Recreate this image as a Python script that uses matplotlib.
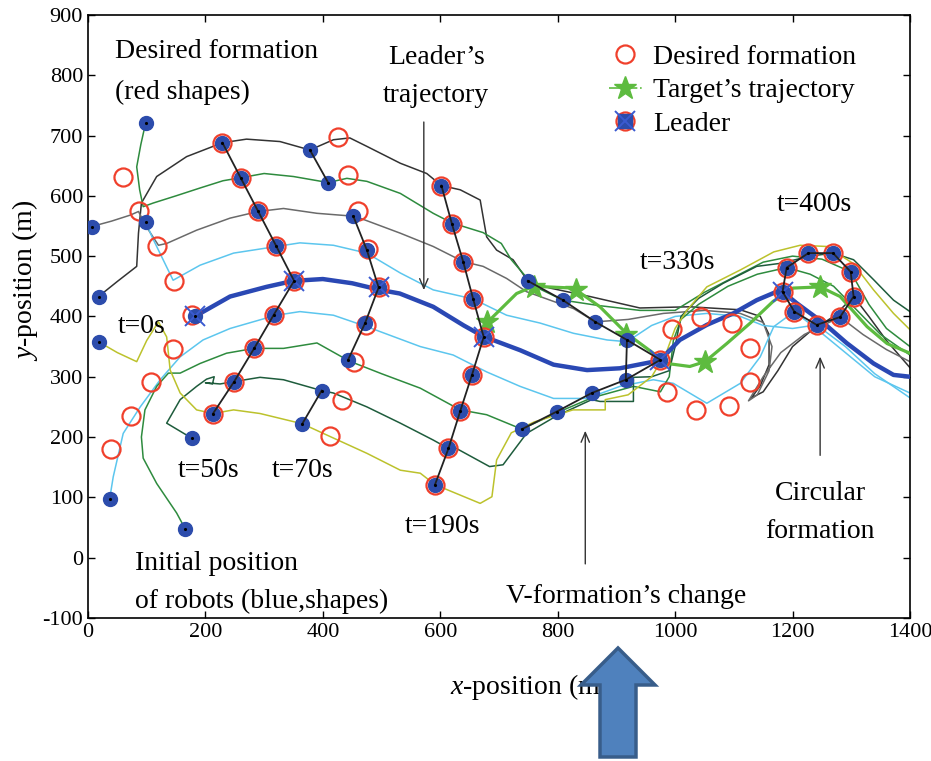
import matplotlib
matplotlib.use('Agg')
import matplotlib.pyplot as plt
from matplotlib.lines import Line2D
from matplotlib.patches import Polygon
from matplotlib.legend_handler import HandlerTuple

plt.rcParams['font.family'] = ['Liberation Serif', 'DejaVu Serif']
plt.rcParams['mathtext.fontset'] = 'custom'
plt.rcParams['mathtext.it'] = 'Liberation Serif:italic'
plt.rcParams['mathtext.rm'] = 'Liberation Serif'
plt.rcParams['axes.unicode_minus'] = False

# --- robot trajectories ---
leader_x = [182, 242, 304, 350, 400, 450, 497, 531, 588, 640, 673, 736, 793, 850, 906, 974,
            1008, 1054, 1099, 1139, 1173, 1183, 1207, 1253, 1292, 1338, 1372, 1400]
leader_y = [400, 433, 449, 459, 462, 455, 444, 438, 416, 385, 367, 344, 320, 311, 314, 327,
            361, 386, 405, 427, 441, 441, 422, 389, 356, 322, 303, 300]

black_x = [18, 50, 83, 86, 91, 117, 168, 229, 270, 327, 378, 418, 446, 475, 532, 577, 602, 634,
           668, 673, 679, 696, 724, 749, 787, 855, 940, 1025, 1111, 1145, 1160, 1160, 1145, 1130,
           1150, 1175, 1200, 1230, 1270, 1304, 1330, 1360, 1400]
black_y = [433, 458, 483, 538, 588, 632, 665, 688, 694, 690, 676, 693, 696, 682, 654, 637, 617, 610,
           593, 565, 532, 510, 494, 459, 447, 433, 414, 416, 411, 400, 370, 320, 285, 265,
           275, 310, 350, 375, 400, 433, 400, 360, 315]

green1_x = [98, 90, 83, 88, 94, 111, 150, 191, 230, 260, 300, 350, 409, 441, 475, 532, 588, 620,
            673, 704, 721, 760, 809, 870, 940, 1000, 1050, 1100, 1150, 1200, 1250, 1299, 1330, 1360, 1400]
green1_y = [720, 685, 648, 610, 582, 588, 600, 613, 625, 630, 637, 632, 622, 629, 624, 604, 571, 555,
            539, 521, 494, 450, 427, 418, 410, 410, 440, 465, 490, 500, 495, 474, 420, 380, 350]

gray_x = [6, 40, 72, 86, 100, 120, 134, 185, 242, 290, 333, 390, 455, 532, 588, 639, 673, 713, 747,
          787, 827, 864, 920, 980, 1050, 1111, 1150, 1165, 1160, 1140, 1125, 1150, 1180, 1220, 1281,
          1320, 1360, 1400]
gray_y = [549, 558, 568, 574, 548, 518, 521, 543, 563, 574, 579, 571, 566, 538, 516, 491, 483, 463, 441,
          427, 413, 391, 395, 405, 410, 405, 390, 350, 310, 270, 260, 300, 340, 370, 399,
          370, 345, 325]

cyan1_x = [98, 110, 125, 145, 191, 248, 321, 361, 418, 475, 532, 588, 656, 713, 770, 827, 884, 918,
           960, 1000, 1054, 1111, 1150, 1200, 1241, 1290, 1340, 1400]
cyan1_y = [557, 530, 500, 460, 485, 505, 516, 522, 518, 505, 472, 444, 429, 402, 389, 372, 361, 358,
           385, 400, 405, 400, 385, 380, 386, 350, 305, 265]

cyan2_x = [37, 43, 60, 89, 123, 157, 196, 242, 299, 321, 361, 418, 475, 566, 622, 679, 736, 793, 850,
           906, 963, 997, 1054, 1111, 1145, 1168, 1203, 1240, 1290, 1340, 1400]
cyan2_y = [98, 134, 206, 250, 295, 333, 361, 380, 396, 402, 408, 402, 383, 350, 336, 308, 284, 264, 264,
           284, 295, 289, 256, 289, 333, 383, 408, 380, 340, 300, 273]

green2_x = [166, 151, 117, 94, 91, 97, 117, 137, 157, 191, 236, 283, 333, 390, 445, 500, 566, 634,
            679, 739, 798, 858, 929, 975, 990, 997, 1010, 1040, 1090, 1140, 1190, 1230, 1270, 1310,
            1350, 1400]
green2_y = [47, 74, 123, 165, 200, 245, 284, 306, 306, 322, 339, 347, 347, 356, 326, 305, 281, 245,
            237, 213, 240, 265, 284, 275, 300, 360, 395, 420, 450, 470, 481, 470, 450, 410,
            370, 336]

dgreen_x = [177, 134, 157, 185, 202, 215, 212, 200, 225, 249, 293, 333, 398, 418, 475, 532, 588, 614,
            622, 684, 707, 730, 747, 798, 858, 872, 929, 929, 960, 990, 1000, 1010, 1040, 1082, 1139,
            1179, 1230, 1269, 1304, 1338, 1372, 1400]
dgreen_y = [198, 223, 262, 284, 296, 300, 288, 290, 288, 292, 299, 295, 277, 273, 250, 223, 195, 181,
            184, 151, 154, 184, 206, 235, 262, 259, 259, 299, 300, 310, 350, 400, 430, 455, 483,
            488, 500, 505, 494, 461, 427, 408]

yellow_x = [18, 50, 83, 100, 120, 134, 140, 157, 185, 213, 248, 293, 365, 412, 475, 532, 566, 591,
            668, 688, 696, 721, 760, 826, 881, 881, 920, 960, 985, 1000, 1020, 1054, 1111, 1168,
            1213, 1258, 1303, 1338, 1372, 1400]
yellow_y = [358, 340, 325, 360, 391, 366, 311, 273, 245, 239, 245, 239, 222, 201, 173, 145, 140, 121,
            90, 101, 162, 207, 225, 245, 245, 262, 270, 300, 340, 380, 410, 449, 477, 507,
            518, 516, 488, 444, 405, 378]

# --- formation snapshots ---
t0_robot_x = [18, 98, 6, 98, 182, 37, 166, 177, 18]
t0_robot_y = [433, 720, 549, 557, 400, 98, 47, 198, 358]
t0_des_x = [59, 87, 118, 147, 178, 144, 107, 73, 39]
t0_des_y = [632, 575, 516, 459, 402, 346, 291, 235, 180]

t50_x = [229, 260, 290, 321, 351, 316, 283, 249, 213]
t50_y = [688, 630, 574, 516, 459, 402, 347, 292, 239]

t70_x = [378, 409, 452, 475, 495, 472, 443, 398, 365]
t70_y = [676, 622, 566, 510, 448, 389, 328, 277, 222]
t70_des_x = [426, 443, 460, 477, 495, 473, 453, 432, 412]
t70_des_y = [698, 635, 574, 512, 448, 386, 325, 262, 201]

t190_x = [602, 620, 639, 656, 674, 654, 634, 614, 591]
t190_y = [617, 553, 491, 429, 366, 303, 243, 181, 121]

t330_x = [749, 809, 864, 918, 975, 916, 858, 798, 739]
t330_y = [459, 427, 391, 361, 328, 295, 273, 242, 213]
t330_des_x = [975, 994, 1044, 1097, 1128, 1127, 1091, 1036, 987]
t330_des_y = [328, 379, 399, 389, 347, 292, 252, 245, 275]

t400_x = [1183, 1190, 1227, 1269, 1299, 1304, 1281, 1241, 1203]
t400_y = [441, 481, 505, 505, 474, 433, 399, 386, 408]

leader_mark_x = [182, 351, 495, 674, 975, 1183]
leader_mark_y = [400, 459, 448, 366, 328, 441]

target_x = [680, 730, 759, 827, 872, 917, 963, 986, 1025, 1051, 1088, 1128, 1167, 1201, 1247,
            1281, 1327, 1361, 1400]
target_y = [390, 438, 450, 447, 416, 372, 339, 322, 317, 325, 355, 389, 425, 447, 449,
            433, 383, 355, 339]
star_x = [680, 759, 832, 916, 1051, 1247]
star_y = [390, 449, 444, 369, 325, 449]

RED = '#f0402c'
BLUE = '#2c4cac'
TGREEN = '#5dbb3f'

fig = plt.figure(figsize=(9.31, 7.61), dpi=100)
ax = fig.add_axes([0.0945, 0.188, 0.8829, 0.7924])

followers = [
    (black_x, black_y, '#333333'),
    (green1_x, green1_y, '#2e8b3e'),
    (gray_x, gray_y, '#6a6a6a'),
    (cyan1_x, cyan1_y, '#5cc6ee'),
    (cyan2_x, cyan2_y, '#5cc6ee'),
    (green2_x, green2_y, '#2e8b3e'),
    (dgreen_x, dgreen_y, '#1e5c3c'),
    (yellow_x, yellow_y, '#bcc22c'),
]
for fx, fy, c in followers:
    ax.plot(fx, fy, color=c, lw=1.1, zorder=2)

ax.plot(leader_x, leader_y, color='#2a48b4', lw=3.2, zorder=3)
ax.plot(target_x, target_y, color=TGREEN, lw=2.3, zorder=4)
ax.plot(star_x, star_y, ls='none', marker='*', ms=17, color=TGREEN, zorder=4)

# desired formation circles
des_x = t0_des_x + t50_x + t70_des_x + t190_x + t330_des_x + t400_x
des_y = t0_des_y + t50_y + t70_des_y + t190_y + t330_des_y + t400_y
ax.plot(des_x, des_y, ls='none', marker='o', ms=13, mfc='none', mec=RED, mew=1.6, zorder=5)

# robots (blue dots)
rob_x = t0_robot_x + t50_x + t70_x + t190_x + t330_x + t400_x
rob_y = t0_robot_y + t50_y + t70_y + t190_y + t330_y + t400_y
ax.plot(rob_x, rob_y, ls='none', marker='o', ms=10, color=BLUE, zorder=6)
ax.plot(rob_x, rob_y, ls='none', marker='.', ms=2.5, color='black', zorder=8)
ax.plot(leader_mark_x, leader_mark_y, ls='none', marker='x', ms=14, mew=1.4, color='#3a5ad0', zorder=7)

# formation shape lines
fl = dict(color='#222222', lw=1.3, zorder=7)
ax.plot(t50_x, t50_y, **fl)
ax.plot(t70_x[:2], t70_y[:2], **fl)
ax.plot(t70_x[2:7], t70_y[2:7], **fl)
ax.plot(t70_x[7:], t70_y[7:], **fl)
ax.plot(t190_x, t190_y, **fl)
ax.plot(t330_x, t330_y, **fl)
ax.plot([t330_x[3], t330_x[5]], [t330_y[3], t330_y[5]], **fl)
ax.plot(t400_x + t400_x[:1], t400_y + t400_y[:1], **fl)

# annotations
fs = 20
ax.text(46, 839, 'Desired formation', fontsize=fs, va='center', ha='left')
ax.text(46, 772, '(red shapes)', fontsize=fs, va='center', ha='left')
ax.text(593, 830, 'Leader\u2019s', fontsize=fs, va='center', ha='center')
ax.text(593, 767, 'trajectory', fontsize=fs, va='center', ha='center')
ax.text(51, 383, 't=0s', fontsize=fs, va='center', ha='left')
ax.text(153, 145, 't=50s', fontsize=fs, va='center', ha='left')
ax.text(313, 145, 't=70s', fontsize=fs, va='center', ha='left')
ax.text(540, 51, 't=190s', fontsize=fs, va='center', ha='left')
ax.text(940, 489, 't=330s', fontsize=fs, va='center', ha='left')
ax.text(1174, 585, 't=400s', fontsize=fs, va='center', ha='left')
ax.text(1247, 107, 'Circular', fontsize=fs, va='center', ha='center')
ax.text(1247, 43, 'formation', fontsize=fs, va='center', ha='center')
ax.text(917, -65, 'V-formation\u2019s change', fontsize=fs, va='center', ha='center')
ax.text(80, -9, 'Initial position', fontsize=fs, va='center', ha='left')
ax.text(80, -73, 'of robots (blue,shapes)', fontsize=fs, va='center', ha='left')

arr = dict(arrowstyle='->,head_length=0.7,head_width=0.3', color='#333333', lw=1.0)
ax.annotate('', xy=(572, 439), xytext=(572, 727), arrowprops=arr)
ax.annotate('', xy=(847, 215), xytext=(847, -15), arrowprops=arr)
ax.annotate('', xy=(1247, 338), xytext=(1247, 165), arrowprops=arr)

ax.set_xlim(0, 1400)
ax.set_ylim(-100, 900)
ax.set_xticks(range(0, 1401, 200))
ax.set_yticks(range(-100, 901, 100))
ax.tick_params(direction='in', top=True, right=True, length=5, labelsize=16, width=1)
for s in ax.spines.values():
    s.set_linewidth(1.2)

ax.set_xlabel('$x$-position (m)', fontsize=fs)
ax.xaxis.set_label_coords(0.537, -0.09)
ax.set_ylabel('$y$-position (m)', fontsize=fs)
ax.yaxis.set_label_coords(-0.058, 0.56)

# legend
h_des = Line2D([], [], ls='none', marker='o', ms=13, mfc='none', mec=RED, mew=1.6)
h_tgt = Line2D([], [], color=TGREEN, ls='-.', lw=1.2, marker='*', ms=17, mfc=TGREEN, mec=TGREEN)
h_l1 = Line2D([], [], ls='none', marker='o', ms=13, mfc='none', mec=RED, mew=1.6)
h_l2 = Line2D([], [], ls='none', marker='s', ms=10, color=BLUE)
h_l3 = Line2D([], [], ls='none', marker='x', ms=14, mew=1.4, color='#3a5ad0')
ax.legend([h_des, h_tgt, (h_l1, h_l2, h_l3)],
          ['Desired formation', 'Target\u2019s trajectory', 'Leader'],
          handler_map={tuple: HandlerTuple(ndivide=1)},
          loc='upper left', bbox_to_anchor=(0.62, 0.97), frameon=False,
          fontsize=fs, handlelength=1.2, handletextpad=0.4, labelspacing=0.3,
          borderaxespad=0)

# big blue block arrow below the plot
W, H = 931.0, 761.0
pts_px = [(618, 648), (655, 685), (636, 685), (636, 757), (600, 757), (600, 685), (581, 685)]
pts = [(px / W, 1 - py / H) for px, py in pts_px]
fig.patches.append(Polygon(pts, closed=True, transform=fig.transFigure,
                           fc='#4f81bd', ec='#385d8a', lw=2.5, zorder=10))

fig.savefig('out.png', dpi=100)
